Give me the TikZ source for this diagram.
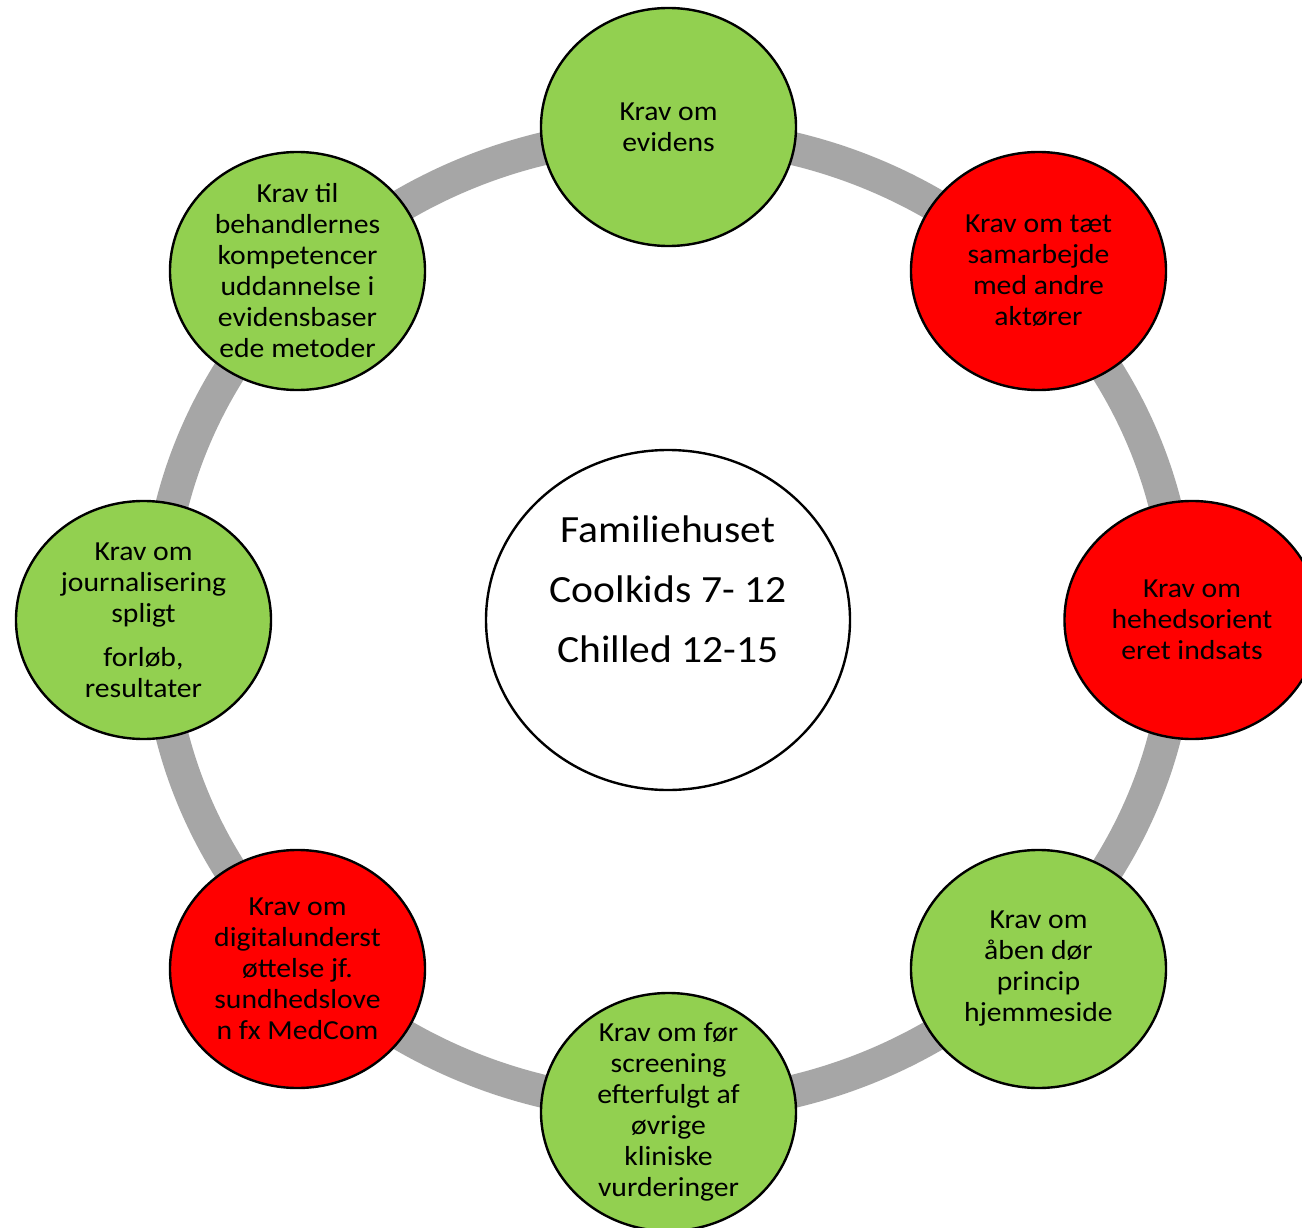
\documentclass[tikz,border=0pt]{standalone}
\usepackage{fontspec}
\setmainfont{Carlito}[FakeStretch=1.08]
\usetikzlibrary{shapes.geometric}
\definecolor{ballgreen}{RGB}{146,208,80}
\definecolor{ballred}{RGB}{255,0,0}
\definecolor{ringgray}{RGB}{166,166,166}
\tikzset{
  ball/.style={ellipse, draw=black, line width=2.4pt, minimum width=255pt, minimum height=238pt, inner sep=0pt},
  greenball/.style={ball, fill=ballgreen},
  redball/.style={ball, fill=ballred},
  balltext/.style={align=center, font=\fontsize{27.5}{31}\selectfont, inner sep=0pt, text=black},
  hubball/.style={ellipse, draw=black, line width=2.4pt, fill=white, minimum width=364pt, minimum height=340pt, inner sep=0pt},
  hubtext/.style={align=center, font=\fontsize{38.5}{60}\selectfont, inner sep=0pt, text=black},
  ringline/.style={draw=ringgray, line width=33pt},
}
\begin{document}
\begin{tikzpicture}[x=1pt,y=-1pt]
\useasboundingbox (0,0) rectangle (1302,1228);
\clip (0,0) rectangle (1302,1228);
\fill[white] (0,0) rectangle (1302,1228);
% ring
\coordinate (ringc) at (668.5,620);
\draw[ringline] (ringc) ellipse [x radius=511pt, y radius=486pt];
% hub
\node[hubball] (hub) at (668,620) {};
\node[hubtext] (hubt) at (668,589) {Familiehuset\\Coolkids 7- 12\\Chilled 12-15};
% outer balls
\node[greenball] (n1) at (668.5,127) {};
\node[balltext] (t1) at (n1.center) {Krav om\\evidens};
\node[redball] (n2) at (1038.5,271) {};
\node[balltext] (t2) at (n2.center) {Krav om tæt\\samarbejde\\med andre\\aktører};
\node[redball] (n3) at (1192,620) {};
\node[balltext] (t3) at (n3.center) {Krav om\\hehedsorient\\eret indsats};
\node[greenball] (n4) at (1038.5,969) {};
\node[balltext] (t4) at (n4.center) {Krav om\\åben dør\\princip\\hjemmeside};
\node[greenball] (n5) at (668.5,1112) {};
\node[balltext] (t5) at (n5.center) {Krav om før\\screening\\efterfulgt af\\øvrige\\kliniske\\vurderinger};
\node[redball] (n6) at (297.5,969) {};
\node[balltext] (t6) at (n6.center) {Krav om\\digitalunderst\\øttelse jf.\\sundhedslove\\n fx MedCom};
\node[greenball] (n7) at (143.5,620) {};
\node[balltext] (t7) at (n7.center) {Krav om\\journalisering\\spligt\\[13pt]forløb,\\resultater};
\node[greenball] (n8) at (297.5,271) {};
\node[balltext] (t8) at (n8.center) {Krav til\\behandlernes\\kompetencer\\uddannelse i\\evidensbaser\\ede metoder};
\end{tikzpicture}
\end{document}
